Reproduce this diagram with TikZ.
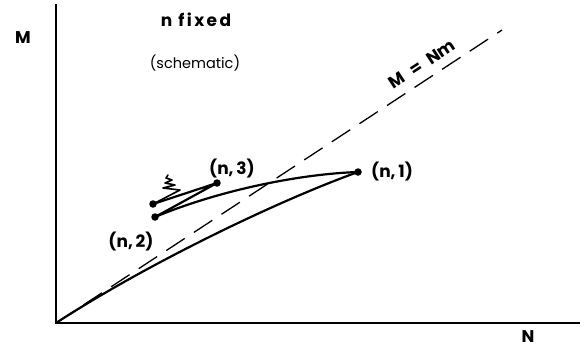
\documentclass[tikz,border=0pt]{standalone}
\usepackage{fontspec}
\setmainfont{Poppins}
\usetikzlibrary{positioning}

\begin{document}
\begin{tikzpicture}[x=1pt,y=-1pt,
  axis/.style={line width=1.5pt},
  curve/.style={line width=2.2pt,line cap=round,line join=round},
  guide/.style={line width=1.3pt,dash pattern=on 22pt off 11pt},
  dot/.style={circle,fill=black,inner sep=0pt,minimum size=7.5pt},
  lbl/.style={font=\fontsize{17}{19}\selectfont\bfseries,inner sep=1pt}]
  \useasboundingbox (0,0) rectangle (584,349);
  % axes
  \coordinate (O) at (56,323);
  \coordinate (ytop) at (56,4);
  \coordinate (xend) at (580,323);
  \draw[axis] (ytop) -- (O) -- (xend);
  \node[lbl] (ym) at (23,38) {M};
  \node[lbl] (xn) at (528,337) {N};
  \node[lbl,font=\fontsize{17}{19}\selectfont\bfseries\addfontfeatures{LetterSpace=14}] (ttl) at (196,20) {n fixed};
  \node[lbl,font=\fontsize{14.5}{16}\selectfont] (sub) at (195,63) {(schematic)};
  % line M = Nm
  \coordinate (dend) at (502,30);
  \draw[guide] (O) -- (dend)
    node[pos=0.84,sloped,above=8pt,lbl] (gl) {M\enspace=\enspace Nm};
  % states
  \node[dot] (p1) at (358,172) {};
  \node[dot] (p3) at (217,183) {};
  \node[dot] (p2) at (155,217) {};
  \node[dot] (p4) at (153,204) {};
  \node[lbl,right=8pt of p1] (l1) {(n,\,1)};
  \node[lbl] (l3) at (232,169) {(n,\,3)};
  \node[lbl] (l2) at (131,242) {(n,\,2)};
  \draw[curve] (O) .. controls (150,262) and (280,200) .. (p1.center);
  \draw[curve] (p1.center) .. controls (300,174) and (220,190) .. (p2.center);
  \draw[curve] (p2.center) -- (p3.center) -- (p4.center);
  \draw[curve,line width=1.6pt] (p4.center) -- (180,190) -- (163,188) -- (175,185)
    -- (165,183) -- (172,180) -- (166,178) -- (168,175);
\end{tikzpicture}
\end{document}
